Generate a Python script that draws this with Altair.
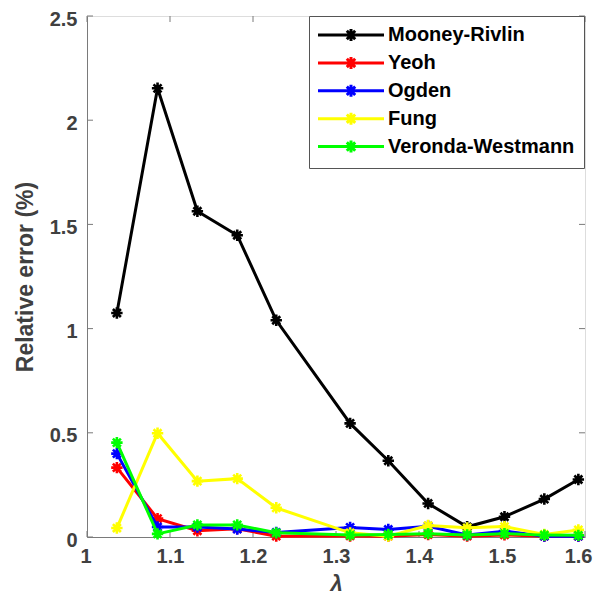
import altair as alt
import pandas as pd

# ---- data ----
lam = [1.036, 1.085, 1.133, 1.181, 1.228, 1.317, 1.363, 1.411, 1.458, 1.503, 1.551, 1.592]
series_names = ["Mooney-Rivlin", "Yeoh", "Ogden", "Fung", "Veronda-Westmann"]
series_colors = ["#000000", "#ff0000", "#0000ff", "#ffff00", "#00ff00"]
mooney = [1.075, 2.153, 1.563, 1.448, 1.040, 0.545, 0.366, 0.161, 0.049, 0.097, 0.182, 0.276]
yeoh = [0.333, 0.088, 0.030, 0.040, 0.004, 0.005, 0.004, 0.012, 0.004, 0.010, 0.004, 0.004]
ogden = [0.400, 0.048, 0.048, 0.038, 0.022, 0.046, 0.036, 0.052, 0.010, 0.028, 0.004, 0.004]
fung = [0.043, 0.498, 0.268, 0.280, 0.140, 0.020, 0.004, 0.055, 0.044, 0.050, 0.012, 0.034]
veronda = [0.453, 0.015, 0.058, 0.058, 0.020, 0.009, 0.012, 0.016, 0.010, 0.016, 0.009, 0.008]
x_ticks = [1.0, 1.1, 1.2, 1.3, 1.4, 1.5, 1.6]
y_ticks = [0, 0.5, 1, 1.5, 2, 2.5]

rows = []
for name, vals in zip(series_names, [mooney, yeoh, ogden, fung, veronda]):
    for l, v in zip(lam, vals):
        rows.append({"lam": l, "err": v, "model": name})
df = pd.DataFrame(rows)
xt = pd.DataFrame({"t": x_ticks})
yt = pd.DataFrame({"t": y_ticks})

W, H = 498, 521
FONT = "Liberation Sans"
GRAY = "#404040"
AXC = "#7a7a7a"
ASTER = "M-1,0L1,0M0,-1L0,1M-0.7,-0.7L0.7,0.7M-0.7,0.7L0.7,-0.7"
LEG = "M-5.5,0L5.5,0M0,-1L0,1M-0.7,-0.7L0.7,0.7M-0.7,0.7L0.7,-0.7"

xs = alt.Scale(domain=[1, 1.6], nice=False, zero=False)
ys = alt.Scale(domain=[0, 2.5], nice=False)
cs = alt.Scale(domain=series_names, range=series_colors)

x_axis = alt.Axis(values=x_ticks, format="~g", ticks=False, tickSize=0, grid=False,
                  labelPadding=9, labelFontSize=20, labelFont=FONT, labelFontWeight="bold",
                  labelColor=GRAY, domainColor=AXC, labelFlush=True, labelFlushOffset=7,
                  title="λ", titleX=W / 2, titleY=46, titleBaseline="middle",
                  titleFont=FONT, titleFontSize=22, titleFontWeight="bold",
                  titleFontStyle="italic", titleColor=GRAY)
y_axis = alt.Axis(values=y_ticks, format="~g", ticks=False, tickSize=0, grid=False,
                  labelPadding=10, labelOffset=3, labelFontSize=20, labelFont=FONT,
                  labelFontWeight="bold",
                  labelColor=GRAY, domainColor=AXC, labelFlush=False,
                  title="Relative error (%)", titleX=-62, titleY=H / 2, titleBaseline="middle",
                  titleAngle=270, titleAlign="center",
                  titleFont=FONT, titleFontSize=23, titleFontWeight="bold", titleColor=GRAY)

X = alt.X("lam:Q", scale=xs, axis=x_axis)
Y = alt.Y("err:Q", scale=ys, axis=y_axis)
legend = alt.Legend(title=None, orient="none", legendX=222, legendY=0,
                    symbolType=LEG, symbolSize=144, symbolStrokeWidth=3,
                    symbolOffset=23, labelOffset=27, labelLimit=300,
                    labelFont=FONT, labelFontSize=20, labelFontWeight="bold",
                    labelColor="#000000", padding=9, rowPadding=3.9,
                    strokeColor="#555555", fillColor="#ffffff")
C = alt.Color("model:N", scale=cs, legend=legend)

layers = []
for name in series_names:
    sub = df[df["model"] == name]
    layers.append(alt.Chart(sub).mark_line(strokeWidth=3).encode(x=X, y=Y, color=C))
    layers.append(alt.Chart(sub).mark_point(shape=ASTER, size=130, strokeWidth=2.6,
                                           filled=False, opacity=1).encode(x=X, y=Y, color=C))

tick_x_bottom = alt.Chart(xt).mark_rule(color=AXC, strokeWidth=1).encode(
    x=alt.X("t:Q", scale=xs, axis=x_axis), y=alt.value(H), y2=alt.value(H - 6))
tick_x_top = alt.Chart(xt).mark_rule(color=AXC, strokeWidth=1).encode(
    x=alt.X("t:Q", scale=xs, axis=x_axis), y=alt.value(0), y2=alt.value(6))
tick_y_left = alt.Chart(yt).mark_rule(color=AXC, strokeWidth=1).encode(
    y=alt.Y("t:Q", scale=ys, axis=y_axis), x=alt.value(0), x2=alt.value(6))
tick_y_right = alt.Chart(yt).mark_rule(color=AXC, strokeWidth=1).encode(
    y=alt.Y("t:Q", scale=ys, axis=y_axis), x=alt.value(W), x2=alt.value(W - 6))

chart = alt.layer(tick_x_bottom, tick_x_top, tick_y_left, tick_y_right, *layers).properties(
    width=W, height=H,
    autosize=alt.AutoSizeParams(type="none"),
    padding={"left": 79, "top": 8, "right": 8, "bottom": 59},
).configure_view(stroke=AXC, strokeWidth=1).configure(background="white")

chart.save("out.html", embed_options={"renderer": "svg", "actions": False})
